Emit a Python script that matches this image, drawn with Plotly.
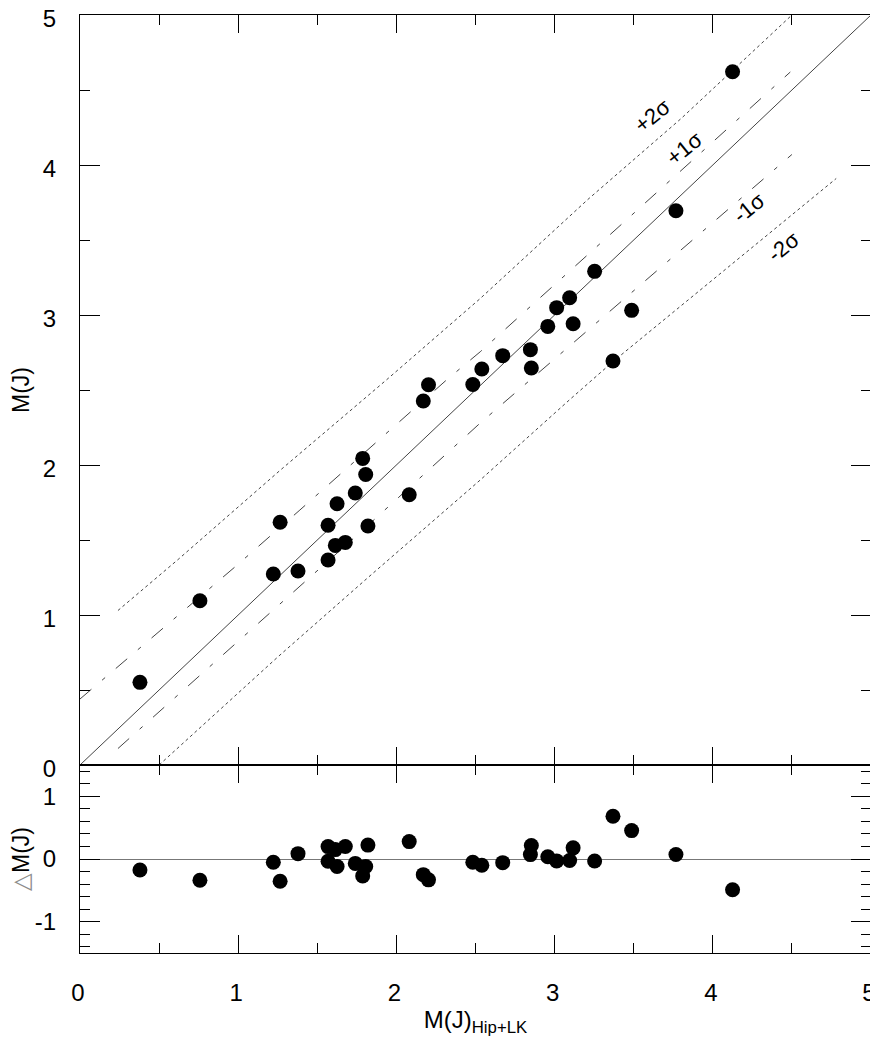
import plotly.graph_objects as go

# ---- data ----
mj_hip = [0.379, 0.758, 1.222, 1.265, 1.378, 1.568, 1.568, 1.614, 1.625, 1.677,
          1.740, 1.787, 1.806, 1.820, 2.081, 2.170, 2.203, 2.483, 2.540, 2.672,
          2.847, 2.853, 2.957, 3.013, 3.095, 3.117, 3.253, 3.369, 3.487, 3.767, 4.125]
mj = [0.551, 1.095, 1.273, 1.618, 1.293, 1.598, 1.367, 1.464, 1.742, 1.484,
      1.813, 2.044, 1.937, 1.593, 1.802, 2.427, 2.535, 2.537, 2.640, 2.729,
      2.769, 2.647, 2.924, 3.049, 3.115, 2.942, 3.291, 2.693, 3.031, 3.695, 4.622]
delta_mj = [-0.175, -0.340, -0.053, -0.356, 0.085, -0.035, 0.198, 0.150, -0.120, 0.200,
            -0.070, -0.270, -0.120, 0.222, 0.278, -0.250, -0.333, -0.053, -0.100, -0.058,
            0.070, 0.215, 0.035, -0.030, -0.025, 0.178, -0.032, 0.682, 0.453, 0.073, -0.490]

diag_x = [0, 5]
diag_y = [0, 5]

p2s_x = [0.24, 0.62, 1.26, 1.94, 2.53, 3.21, 3.80, 4.50]
p2s_y = [1.03, 1.37, 1.96, 2.57, 3.11, 3.77, 4.31, 5.00]
p1s_x = [0.00, 0.30, 0.99, 1.39, 2.32, 2.53, 3.60, 4.49]
p1s_y = [0.44, 0.71, 1.33, 1.70, 2.57, 2.755, 3.77, 4.62]
m1s_x = [0.24, 1.22, 1.76, 2.53, 2.74, 3.74, 4.50]
m1s_y = [0.11, 1.03, 1.54, 2.28, 2.47, 3.38, 4.07]
m2s_x = [0.50, 1.25, 1.81, 2.53, 3.10, 3.37, 4.78]
m2s_y = [0.00, 0.72, 1.24, 1.90, 2.44, 2.69, 3.91]

sigma_labels = ["+2σ", "+1σ", "-1σ", "-2σ"]
sigma_label_x = [3.62, 3.82, 4.23, 4.45]
sigma_label_y = [4.33, 4.11, 3.72, 3.455]

top_ticks = [0, 1, 2, 3, 4, 5]
bot_ticks = [-1, 0, 1]
bot_ticktext = ["-1", "0", "1"]

FONT = "Liberation Sans, Arial, sans-serif"
LINE_COL = "#444444"

fig = go.Figure()

fig.add_trace(go.Scatter(x=diag_x, y=diag_y, mode="lines",
                         line=dict(color=LINE_COL, width=1), xaxis="x", yaxis="y"))
for xs, ys, dash in [(p2s_x, p2s_y, "3px,3px"), (m2s_x, m2s_y, "3px,3px"),
                     (p1s_x, p1s_y, "15px,14px,4px,14px"), (m1s_x, m1s_y, "15px,14px,4px,14px")]:
    fig.add_trace(go.Scatter(x=xs, y=ys, mode="lines",
                             line=dict(color=LINE_COL, width=1, dash=dash),
                             xaxis="x", yaxis="y"))

fig.add_trace(go.Scatter(x=mj_hip, y=mj, mode="markers",
                         marker=dict(color="black", size=15, line=dict(width=0)),
                         xaxis="x", yaxis="y"))
fig.add_trace(go.Scatter(x=mj_hip, y=delta_mj, mode="markers",
                         marker=dict(color="black", size=15, line=dict(width=0)),
                         xaxis="x2", yaxis="y2"))

for t, ax, ay in zip(sigma_labels, sigma_label_x, sigma_label_y):
    fig.add_annotation(x=ax, y=ay, xref="x", yref="y", text=t, showarrow=False,
                       textangle=-39, font=dict(family=FONT, size=22, color="black"))

split = 188 / 938

common = dict(showline=True, linecolor="black", linewidth=1, mirror="ticks",
              ticks="inside", tickcolor="black", tickwidth=1, showgrid=False,
              zeroline=False, automargin=False, ticklabeloverflow="allow")

# the page body adds an 8px margin, so the figure is 8px smaller on each side
fig.update_layout(
    width=870, height=1037,
    margin=dict(l=72, r=7, t=7, b=92),
    paper_bgcolor="white", plot_bgcolor="white",
    showlegend=False,
    font=dict(family=FONT, size=24, color="black"),
    xaxis=dict(domain=[0, 1], anchor="y", range=[0, 5], tickvals=top_ticks,
               ticklen=18, showticklabels=False,
               minor=dict(dtick=0.5, ticklen=10, ticks="inside", tickcolor="black"),
               **common),
    yaxis=dict(domain=[split, 1], anchor="x", range=[0, 5], tickvals=top_ticks,
               ticklen=20, ticklabelstandoff=18, ticklabelshift=4,
               minor=dict(dtick=0.5, ticklen=10, ticks="inside", tickcolor="black"),
               title=dict(text="M(J)", font=dict(size=23), standoff=12),
               **common),
    xaxis2=dict(domain=[0, 1], anchor="y2", range=[0, 5], tickvals=top_ticks,
                ticklen=18, ticklabelstandoff=18, ticklabelshift=-2,
                minor=dict(dtick=0.5, ticklen=10, ticks="inside", tickcolor="black"),
                title=dict(text="M(J)<sub>Hip+LK</sub>", font=dict(size=24), standoff=6),
                **common),
    yaxis2=dict(domain=[0, split], anchor="x2", range=[-1.5, 1.5],
                tickvals=bot_ticks, ticktext=bot_ticktext,
                ticklen=20, ticklabelstandoff=18,
                minor=dict(dtick=0.2, ticklen=10, ticks="inside", tickcolor="black"),
                title=dict(text='<span style="color:#8c8c8c">△</span>M(J)',
                           font=dict(size=23), standoff=4),
                **{k: v for k, v in common.items() if k != "zeroline"},
                zeroline=True, zerolinecolor="#777777", zerolinewidth=1),
)

fig.write_html("out.html")
